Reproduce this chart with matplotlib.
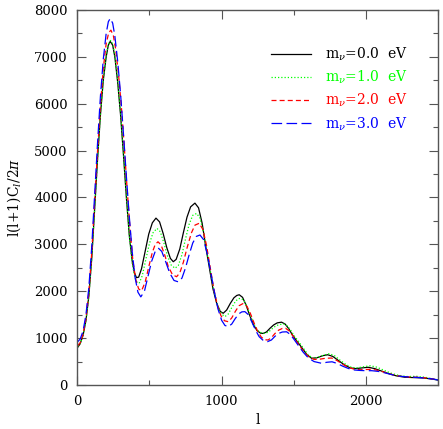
import numpy as np
import matplotlib
matplotlib.use('Agg')
import matplotlib.pyplot as plt

# m_nu = 0.0 eV
l_m0 = [2, 20, 40, 60, 80, 100, 120, 140, 160, 180, 200, 215, 228, 245, 260, 280, 300, 320, 340, 360,
        380, 395, 410, 425, 445, 470, 495, 520, 545, 570, 595, 620, 645, 665, 685, 710, 735, 760, 785, 815,
        840, 865, 890, 915, 940, 965, 990, 1011, 1035, 1060, 1085, 1105, 1122, 1145, 1170, 1195, 1220, 1245,
        1270, 1288, 1310, 1335, 1360, 1385, 1415, 1440, 1465, 1490, 1520, 1550, 1590, 1623, 1660, 1700, 1735,
        1770, 1810, 1850, 1890, 1930, 1975, 2015, 2060, 2110, 2160, 2210, 2270, 2330, 2400, 2460, 2500]
cl_m0 = [800, 880, 1060, 1380, 1900, 2700, 3750, 4800, 5750, 6500, 7000, 7250, 7330, 7250, 7000, 6450, 5750, 4900, 4000, 3200,
         2650, 2400, 2290, 2300, 2480, 2850, 3220, 3460, 3560, 3480, 3230, 2930, 2700, 2630, 2680, 2900, 3250, 3580, 3800, 3880,
         3780, 3450, 2950, 2500, 2050, 1750, 1570, 1530, 1600, 1740, 1860, 1910, 1925, 1870, 1700, 1480, 1290, 1160,
         1105, 1100, 1130, 1210, 1280, 1325, 1340, 1300, 1200, 1070, 940, 820, 650, 570, 580, 625, 645,
         610, 520, 430, 365, 350, 365, 378, 350, 295, 240, 195, 165, 158, 150, 125, 105]

# m_nu = 1.0 eV
l_m1 = [2, 20, 40, 60, 80, 100, 120, 140, 160, 180, 200, 215, 230, 245, 260, 280, 300, 320, 340, 360,
        380, 400, 415, 430, 450, 475, 500, 525, 552, 575, 600, 625, 650, 677, 700, 725, 750, 775, 800, 827,
        850, 875, 900, 925, 950, 975, 1000, 1023, 1045, 1070, 1095, 1115, 1134, 1155, 1180, 1205, 1230, 1255,
        1280, 1300, 1325, 1350, 1375, 1400, 1431, 1455, 1480, 1505, 1535, 1565, 1600, 1633, 1670, 1710, 1745,
        1780, 1820, 1860, 1900, 1940, 1985, 2030, 2075, 2120, 2170, 2220, 2280, 2350, 2410, 2460, 2500]
cl_m1 = [820, 890, 1060, 1370, 1890, 2690, 3740, 4800, 5760, 6520, 7030, 7270, 7350, 7280, 7040, 6500, 5800, 4950, 4050, 3200,
         2600, 2280, 2180, 2180, 2330, 2680, 3020, 3250, 3340, 3270, 3030, 2750, 2560, 2490, 2550, 2780, 3120, 3430, 3620, 3660,
         3560, 3250, 2800, 2380, 1950, 1680, 1510, 1460, 1510, 1650, 1780, 1840, 1850, 1800, 1640, 1440, 1260, 1150,
         1105, 1100, 1130, 1200, 1260, 1290, 1300, 1260, 1160, 1040, 920, 790, 640, 570, 590, 640, 665,
         630, 530, 440, 375, 365, 390, 410, 380, 320, 255, 210, 180, 185, 165, 130, 110]

# m_nu = 2.0 eV
l_m2 = [2, 20, 40, 60, 80, 100, 120, 140, 160, 180, 200, 218, 233, 250, 265, 285, 305, 325, 345, 365,
        385, 405, 425, 445, 470, 495, 520, 540, 559, 580, 605, 630, 660, 688, 710, 735, 760, 790, 815, 845,
        870, 895, 920, 945, 970, 995, 1020, 1046, 1070, 1095, 1120, 1150, 1175, 1200, 1225, 1250, 1275, 1300,
        1322, 1345, 1370, 1395, 1420, 1443, 1470, 1495, 1525, 1560, 1600, 1640, 1680, 1720, 1762, 1800, 1840,
        1880, 1920, 1960, 2000, 2040, 2085, 2130, 2180, 2240, 2300, 2360, 2420, 2470, 2500]
cl_m2 = [840, 900, 1080, 1420, 1980, 2820, 3900, 4980, 5950, 6750, 7280, 7520, 7570, 7450, 7180, 6650, 5950, 5100, 4200, 3350,
         2650, 2250, 2050, 2010, 2190, 2520, 2830, 3000, 3055, 2990, 2780, 2530, 2350, 2310, 2390, 2620, 2920, 3240, 3410, 3450,
         3320, 2980, 2520, 2060, 1700, 1480, 1370, 1350, 1430, 1570, 1690, 1740, 1680, 1520, 1320, 1140, 1020, 965,
         960, 1010, 1100, 1170, 1205, 1210, 1150, 1040, 900, 750, 610, 545, 550, 570, 575, 520, 440,
         375, 335, 325, 330, 335, 310, 270, 225, 185, 170, 165, 150, 125, 110]

# m_nu = 3.0 eV
l_m3 = [2, 20, 40, 60, 80, 100, 120, 140, 160, 180, 200, 215, 228, 245, 260, 280, 300, 320, 340, 360,
        380, 400, 420, 440, 465, 490, 515, 540, 563, 585, 610, 640, 670, 700, 725, 750, 775, 800, 825, 850,
        875, 900, 925, 950, 975, 1000, 1023, 1046, 1070, 1095, 1120, 1140, 1161, 1185, 1210, 1235, 1260, 1290,
        1318, 1345, 1370, 1395, 1420, 1450, 1475, 1500, 1530, 1565, 1600, 1640, 1692, 1730, 1765, 1800, 1840,
        1880, 1920, 1960, 2000, 2040, 2085, 2130, 2180, 2240, 2300, 2360, 2420, 2470, 2500]
cl_m3 = [920, 980, 1150, 1500, 2080, 2950, 4050, 5150, 6150, 6950, 7500, 7750, 7820, 7720, 7450, 6900, 6200, 5350, 4450, 3600,
         2850, 2300, 1980, 1880, 2000, 2320, 2640, 2850, 2915, 2850, 2650, 2390, 2230, 2200, 2280, 2500, 2780, 3030, 3170, 3200,
         3100, 2800, 2400, 1980, 1620, 1380, 1270, 1245, 1300, 1420, 1520, 1560, 1565, 1500, 1340, 1170, 1030, 945,
         925, 960, 1040, 1100, 1130, 1135, 1080, 980, 850, 700, 580, 500, 463, 485, 495, 460, 400,
         350, 320, 310, 305, 305, 290, 260, 220, 185, 170, 160, 145, 125, 105]

labels = [r'm$_\nu$=0.0  eV', r'm$_\nu$=1.0  eV', r'm$_\nu$=2.0  eV', r'm$_\nu$=3.0  eV']
colors = ['black', '#00ff00', 'red', 'blue']

plt.rcParams['font.family'] = ['DejaVu Serif']
plt.rcParams['mathtext.fontset'] = 'dejavuserif'

fig = plt.figure(figsize=(4.43, 4.29), dpi=100)
ax = fig.add_axes([0.1745, 0.1026, 0.8145, 0.8741])

ax.plot(l_m0, cl_m0, color=colors[0], lw=0.9, label=labels[0])
ax.plot(l_m1, cl_m1, color=colors[1], lw=0.9, dashes=(1, 1.6), label=labels[1])
ax.plot(l_m2, cl_m2, color=colors[2], lw=0.9, dashes=(4, 2.5), label=labels[2])
ax.plot(l_m3, cl_m3, color=colors[3], lw=0.9, dashes=(8.5, 3.5), label=labels[3])

ax.set_xlim(0, 2500)
ax.set_ylim(0, 8000)
ax.set_xticks([0, 1000, 2000])
ax.set_xticks(np.arange(0, 2501, 500), minor=True)
ax.set_yticks(np.arange(0, 8001, 1000))
ax.set_yticks(np.arange(0, 8001, 500), minor=True)
ax.tick_params(which='both', direction='in', top=True, right=True, color='#555555', width=0.8, labelsize=9.5)
ax.tick_params(which='major', length=6.5, pad=7)
ax.tick_params(which='minor', length=3.5)
for s in ax.spines.values():
    s.set_color('#555555')
    s.set_linewidth(1.0)

ax.set_xlabel('l', fontsize=10)
ax.set_ylabel(r'l(l+1)C$_l$/2$\pi$', fontsize=10)
ax.yaxis.set_label_coords(-0.15, 0.5)

leg = ax.legend(loc='upper right', bbox_to_anchor=(0.915, 0.905), frameon=False, fontsize=10,
                handlelength=2.9, handletextpad=1.0, labelspacing=0.42, borderpad=0, borderaxespad=0)
for t, c in zip(leg.get_texts(), colors):
    t.set_color(c)

fig.savefig('out.png', dpi=100)
